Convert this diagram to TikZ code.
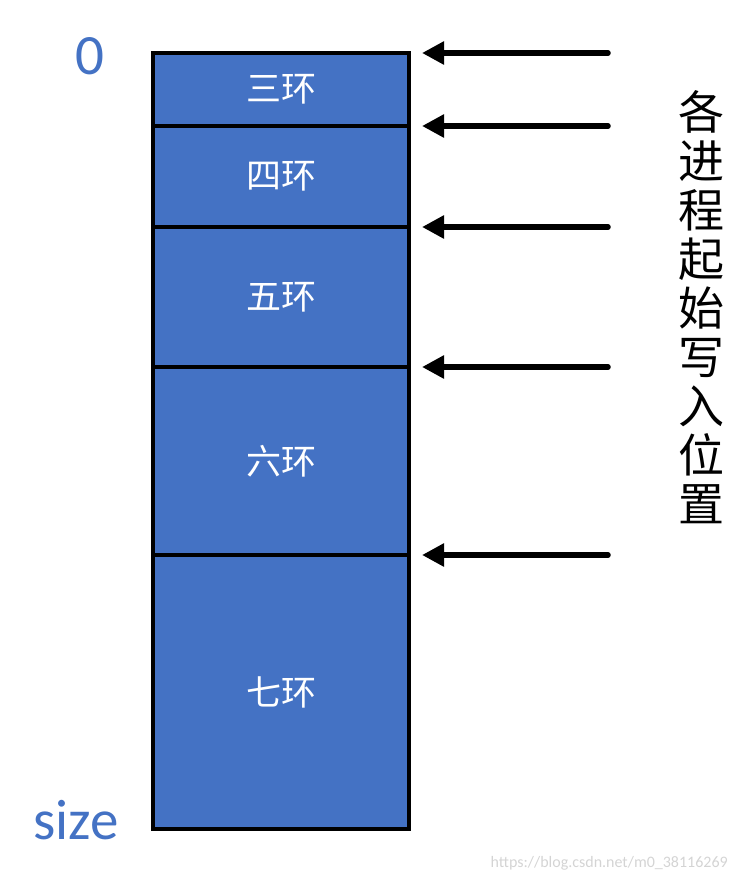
\documentclass[tikz,border=0pt]{standalone}
\usepackage{fontspec}
\setmainfont{Carlito}
\newfontfamily\cjk{Noto Sans CJK SC}
\usetikzlibrary{arrows.meta,positioning}
\definecolor{ringblue}{HTML}{4472C4}
\definecolor{mark}{HTML}{D4D4D4}

\begin{document}
\begin{tikzpicture}[x=1pt, y=-1pt,
  node distance=0pt,
  ring/.style={draw=black, line width=3.5pt, fill=ringblue, text=white,
               font=\cjk\fontsize{35}{38}\selectfont, minimum width=256pt,
               inner sep=0pt, outer sep=0pt},
  tag/.style={text=ringblue, font=\fontsize{57}{60}\selectfont, inner sep=0pt},
  arr/.style={-{Triangle[length=22pt, width=22pt]}, line width=5.5pt, line cap=round}]
  \useasboundingbox (0,0) rectangle (738,884);
  % memory block, top to bottom
  \node[ring, minimum height=73pt, anchor=north] (r3) at (281,53) {三环};
  \node[ring, minimum height=101pt, below=of r3] (r4) {四环};
  \node[ring, minimum height=140pt, below=of r4] (r5) {五环};
  \node[ring, minimum height=188pt, below=of r5] (r6) {六环};
  \node[ring, minimum height=274pt, below=of r6] (r7) {七环};
  \node[tag] (zero) at (90,56) {0};
  \node[tag] (size) at (76,820) {size};
  % write pointers
  \foreach \r in {r3,r4,r5,r6,r7}
    \coordinate (s\r) at ([xshift=199pt]\r.north east);
  \foreach \r in {r3,r4,r5,r6,r7}
    \draw[arr] (s\r) -- ([xshift=13pt]\r.north east);
  \node[font=\cjk\fontsize{46}{49}\selectfont, align=center, inner sep=0pt] (start) at (701,307)
    {各\\进\\程\\起\\始\\写\\入\\位\\置};
  \node[text=mark, font=\fontsize{16}{18}\selectfont, anchor=east, inner sep=0pt] (url) at (728,863)
    {https://blog.csdn.net/m0\_38116269};
\end{tikzpicture}
\end{document}
